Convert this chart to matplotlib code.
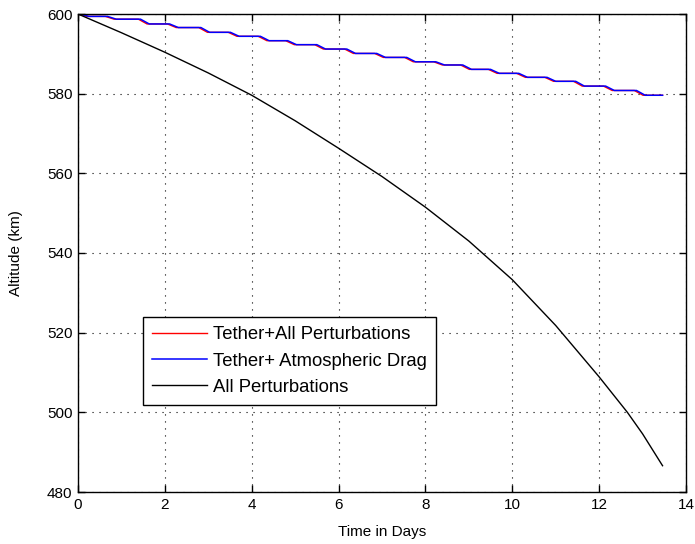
import matplotlib
matplotlib.use("Agg")
import matplotlib.pyplot as plt
import numpy as np

plt.rcParams['font.family'] = ['Liberation Sans', 'DejaVu Sans']

# ---- data ----
# Tether + Atmospheric Drag (staircase): step times (days) and altitude levels (km)
drag_step_days = [0.15, 0.78, 1.54, 2.21, 2.93, 3.61, 4.30, 4.93, 5.60, 6.29,
                  6.98, 7.67, 8.34, 8.96, 9.60, 10.25, 10.90, 11.56, 12.25, 12.96]
drag_levels = [600.0, 599.4, 598.7, 597.5, 596.6, 595.4, 594.4, 593.3, 592.3, 591.2,
               590.1, 589.1, 588.0, 587.2, 586.1, 585.1, 584.1, 583.1, 581.9, 580.8, 579.6]
# Tether + All Perturbations: same levels, steps occur marginally earlier
allp_step_days = [0.11, 0.73, 1.49, 2.16, 2.88, 3.56, 4.25, 4.88, 5.55, 6.24,
                  6.93, 7.62, 8.29, 8.91, 9.55, 10.20, 10.85, 11.51, 12.20, 12.91]
allp_levels = drag_levels
end_day = 13.46

# All Perturbations (no tether)
allpert_days = [0.0, 1.0, 2.0, 3.0, 4.0, 5.0, 6.0, 7.0, 8.0, 9.0, 10.0, 11.0,
                12.0, 12.65, 13.0, 13.46]
allpert_alt = [600.0, 595.3, 590.4, 585.2, 579.6, 573.2, 566.3, 559.2, 551.5, 543.0,
               533.3, 521.8, 508.9, 500.0, 494.6, 486.6]

x_ticks = [0, 2, 4, 6, 8, 10, 12, 14]
y_ticks = [480, 500, 520, 540, 560, 580, 600]


def stair(step_days, levels, t_end, ramp=0.1):
    xs, ys = [0.0], [levels[0]]
    for t, hi, lo in zip(step_days, levels[:-1], levels[1:]):
        xs += [max(t - ramp, 0.0), t + ramp]
        ys += [hi, lo]
    xs.append(t_end)
    ys.append(levels[-1])
    return xs, ys


fig = plt.figure(figsize=(6.95, 5.44), dpi=100)
ax = fig.add_axes([78 / 695, 52 / 544, 608 / 695, 478 / 544])

xr, yr = stair(allp_step_days, allp_levels, end_day)
xb, yb = stair(drag_step_days, drag_levels, end_day)
ax.plot(xr, yr, color='#ff0000', lw=1.0, label='Tether+All Perturbations')
ax.plot(xb, yb, color='#0000ff', lw=1.1, label='Tether+ Atmospheric Drag')
ax.plot(allpert_days, allpert_alt, color='black', lw=1.0, label='All Perturbations')

ax.set_xlim(0, 14)
ax.set_ylim(480, 600)
ax.set_xticks(x_ticks)
ax.set_yticks(y_ticks)
ax.tick_params(direction='in', top=True, right=True, length=5, width=1,
               labelsize=11, pad=4)
for s in ax.spines.values():
    s.set_linewidth(1.0)
ax.grid(True, color='black', linestyle=(0, (1, 5.3)), linewidth=0.8)

ax.set_xlabel('Time in Days', fontsize=11, labelpad=10)
ax.set_ylabel('Altitude (km)', fontsize=11, labelpad=17)

leg = ax.legend(loc='lower left', bbox_to_anchor=(0.1064, 0.182), borderaxespad=0,
                fontsize=13.3, handlelength=3.0, handletextpad=0.3, labelspacing=0.5,
                fancybox=False, framealpha=1, edgecolor='black', borderpad=0.5)
leg.get_frame().set_linewidth(1.0)

fig.savefig('out.png', dpi=100, facecolor='white')
